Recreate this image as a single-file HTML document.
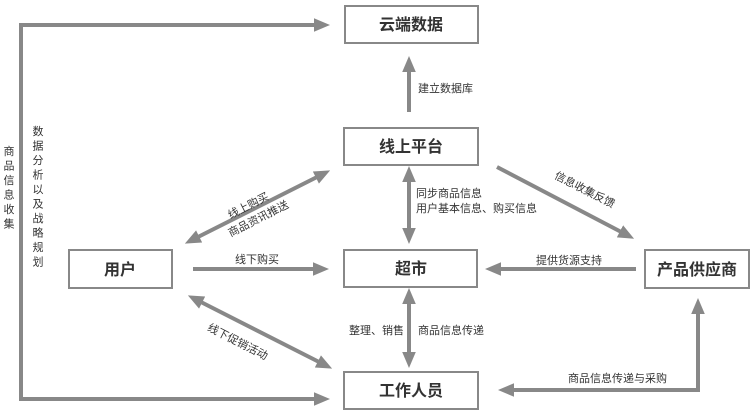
<!DOCTYPE html>
<html><head><meta charset="utf-8"><style>
html,body{margin:0;padding:0;background:#fff;width:751px;height:412px;overflow:hidden}
svg text{font-family:"Liberation Sans","Noto Sans CJK SC",sans-serif;fill:#333}
.b{font-size:16px;fill:#111;font-weight:bold}
.s{font-size:11px}
</style></head><body>
<svg width="751" height="412" viewBox="0 0 751 412" xmlns="http://www.w3.org/2000/svg">
<defs>
<marker id="a" markerWidth="4" markerHeight="4" refX="2" refY="2" orient="auto-start-reverse" markerUnits="strokeWidth">
<path d="M0,0.3 L4,2 L0,3.7 z" fill="#888"/></marker>
</defs>
<g fill="#fff" stroke="#888" stroke-width="2">
<rect x="345" y="6" width="133" height="37"/>
<rect x="344" y="128" width="134" height="37"/>
<rect x="344" y="250" width="133" height="37"/>
<rect x="344" y="372" width="134" height="37"/>
<rect x="69" y="250" width="103" height="38"/>
<rect x="645" y="250" width="104" height="38"/>
</g>
<g stroke="#888" stroke-width="4" fill="none">
<path d="M322,25 H21 V399 H322" marker-end="url(#a)" stroke-linejoin="miter"/>
<path d="M21,25 H322" marker-end="url(#a)"/>
<path d="M409,112 V64" marker-end="url(#a)"/>
<path d="M409,174 V236" marker-start="url(#a)" marker-end="url(#a)"/>
<path d="M409,296 V360" marker-start="url(#a)" marker-end="url(#a)"/>
<path d="M497,167 L627,235" marker-end="url(#a)"/>
<path d="M636,269 H493" marker-end="url(#a)"/>
<path d="M698,306 V390 H506" marker-start="url(#a)" marker-end="url(#a)"/>
<path d="M193,269 H321" marker-end="url(#a)"/>
<path d="M192,240 L323,174" marker-start="url(#a)" marker-end="url(#a)"/>
<path d="M195,299 L325,365" marker-start="url(#a)" marker-end="url(#a)"/>
</g>
<g class="b" text-anchor="middle">
<text x="411" y="30">云端数据</text>
<text x="411" y="152">线上平台</text>
<text x="411" y="274">超市</text>
<text x="411" y="396">工作人员</text>
<text x="120" y="275">用户</text>
<text x="697" y="275">产品供应商</text>
</g>
<g class="s">
<text x="418" y="92">建立数据库</text>
<text x="416" y="197">同步商品信息</text>
<text x="416" y="212">用户基本信息、购买信息</text>
<text x="349" y="334">整理、销售</text>
<text x="418" y="334">商品信息传递</text>
<text x="536" y="264">提供货源支持</text>
<text x="568" y="382">商品信息传递与采购</text>
<text x="235" y="263">线下购买</text>
<text transform="translate(583,193) rotate(27)" text-anchor="middle">信息收集反馈</text>
<text transform="translate(250,209) rotate(-27)" text-anchor="middle">线上购买</text>
<text transform="translate(260,222) rotate(-27)" text-anchor="middle">商品资讯推送</text>
<text transform="translate(236,345) rotate(27)" text-anchor="middle">线下促销活动</text>
</g>
<g class="s" text-anchor="middle">
<text x="9" y="155">商</text><text x="9" y="169.5">品</text><text x="9" y="184">信</text><text x="9" y="198.5">息</text><text x="9" y="213">收</text><text x="9" y="227.5">集</text>
<text x="38" y="135">数</text><text x="38" y="149.5">据</text><text x="38" y="164">分</text><text x="38" y="178.5">析</text><text x="38" y="193">以</text><text x="38" y="207.5">及</text><text x="38" y="222">战</text><text x="38" y="236.5">略</text><text x="38" y="251">规</text><text x="38" y="265.5">划</text>
</g>
</svg>
</body></html>
